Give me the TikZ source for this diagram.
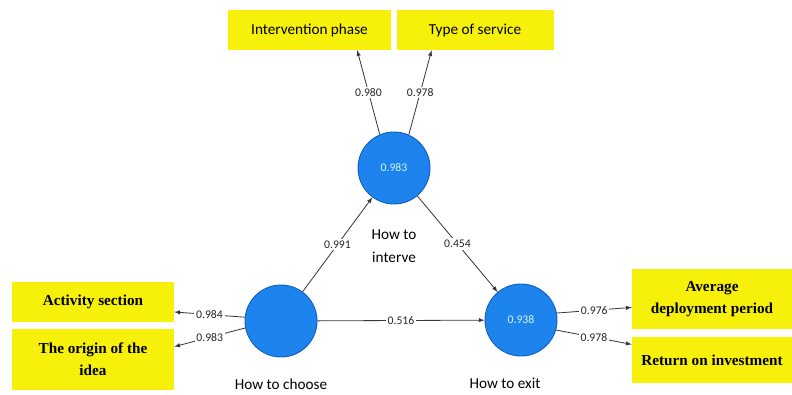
\documentclass[tikz,border=0pt]{standalone}
\usepackage{fontspec}
\setmainfont{Carlito}
\newfontfamily\boxserif{Liberation Serif}
\usetikzlibrary{positioning}
\definecolor{boxyellow}{RGB}{247,240,10}
\definecolor{nodeblue}{RGB}{28,132,236}
\definecolor{rimblue}{RGB}{20,95,195}
\definecolor{wirecol}{RGB}{55,55,55}
\tikzstyle{latent}=[circle,draw=rimblue,line width=0.8pt,fill=nodeblue,minimum size=2.16cm,inner sep=0pt,text=cyan!15,font=\fontsize{10}{12}\selectfont]
\tikzstyle{item}=[rectangle,fill=boxyellow,inner sep=0pt,align=center,font=\fontsize{13}{16}\selectfont]
\tikzstyle{serifitem}=[item,font=\boxserif\bfseries\fontsize{13}{19}\selectfont]
\tikzstyle{link}=[->,>=latex,draw=wirecol,line width=0.7pt]
\tikzstyle{weight}=[midway,fill=white,inner sep=1.5pt,text=black!85,font=\fontsize{10}{12}\selectfont]
\tikzstyle{caption}=[align=center,font=\fontsize{13}{20}\selectfont]

\begin{document}
\begin{tikzpicture}[x=0.03cm,y=-0.03cm]
    \useasboundingbox (0,0) rectangle (792,394);

    % indicator boxes
    \node[item, minimum width=4.89cm, minimum height=1.2cm] (ip) at (309.5, 30) {Intervention phase};
    \node[item, minimum width=4.71cm, minimum height=1.2cm] (ts) at (475, 30) {Type of service};
    \node[serifitem, minimum width=4.86cm, minimum height=1.2cm] (as) at (93, 302) {Activity section};
    \node[serifitem, minimum width=4.86cm, minimum height=1.83cm] (oi) at (93, 359.5) {The origin of the\\idea};
    \node[serifitem, minimum width=4.8cm, minimum height=1.8cm] (ad) at (712, 299) {Average\\deployment period};
    \node[serifitem, minimum width=4.8cm, minimum height=1.38cm] (ri) at (712, 360) {Return on investment};

    % constructs
    \node[latent] (ht) at (394, 168) {0.983};
    \node[latent] (hc) at (281, 321) {};
    \node[latent] (he) at (521, 320) {0.938};

    \node[caption] (htlab) at (394, 246) {How to\\interve};
    \node[caption] (hclab) at (281, 384) {How to choose};
    \node[caption] (helab) at (505, 383) {How to exit};

    % paths
    \draw[link] (hc) -- (ht) node[weight] {0.991};
    \draw[link] (ht) -- (he) node[weight] {0.454};
    \draw[link] (hc) -- (he) node[weight] {0.516};

    % loadings
    \draw[link] (ht.113) -- (ip.-23) node[weight] {0.980};
    \draw[link] (ht.66) -- (ts.205) node[weight] {0.978};
    \draw[link] (hc.174) -- (as.-7) node[weight] {0.984};
    \draw[link] (hc.191) -- (oi.9) node[weight] {0.983};
    \draw[link] (he.11) -- (ad.186) node[weight] {0.976};
    \draw[link] (he.-16) -- (ri.169) node[weight] {0.978};
\end{tikzpicture}
\end{document}
